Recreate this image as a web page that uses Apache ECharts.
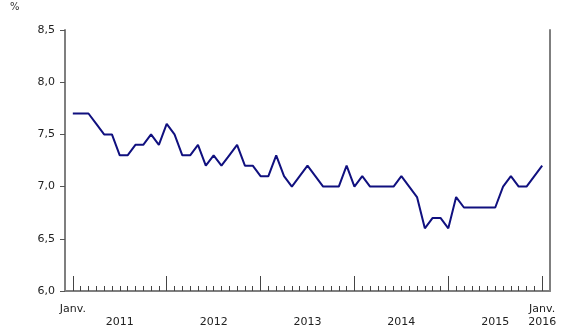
<!DOCTYPE html>
<html>
<head>
<meta charset="utf-8">
<script src="https://cdn.jsdelivr.net/npm/echarts@6/dist/echarts.min.js"></script>
<style>
  html, body { margin: 0; padding: 0; background: #fff; }
  #chart { width: 580px; height: 335px; }
</style>
</head>
<body>
<div id="chart"></div>
<script>
// monthly values, Jan 2011 .. Jan 2016
var years = [2011, 2012, 2013, 2014, 2015, 2016]
var v2011 = [7.7, 7.7, 7.7, 7.6, 7.5, 7.5, 7.3, 7.3, 7.4, 7.4, 7.5, 7.4]
var v2012 = [7.6, 7.5, 7.3, 7.3, 7.4, 7.2, 7.3, 7.2, 7.3, 7.4, 7.2, 7.2]
var v2013 = [7.1, 7.1, 7.3, 7.1, 7.0, 7.1, 7.2, 7.1, 7.0, 7.0, 7.0, 7.2]
var v2014 = [7.0, 7.1, 7.0, 7.0, 7.0, 7.0, 7.1, 7.0, 6.9, 6.6, 6.7, 6.7]
var v2015 = [6.6, 6.9, 6.8, 6.8, 6.8, 6.8, 6.8, 7.0, 7.1, 7.0, 7.0, 7.1]
var v2016 = [7.2]
var yTicks = [6.0, 6.5, 7.0, 7.5, 8.0, 8.5]
var monthLabel = 'Janv.'

var values = [].concat(v2011, v2012, v2013, v2014, v2015, v2016)
var cats = ['']
var data = [null]
for (var i = 0; i < values.length; i++) {
  var y = years[0] + Math.floor(i / 12)
  var m = i % 12 + 1
  cats.push(y + '-' + (m < 10 ? '0' + m : m))
  data.push(values[i])
}
cats.push('')
data.push(null)
var last = values.length // category index of the last month

function isJan (idx) {
  return idx >= 1 && idx <= last && (idx - 1) % 12 === 0
}
function isMonth (idx) {
  return idx >= 1 && idx <= last
}

var font = 'DejaVu Sans'
var myChart = echarts.init(document.getElementById('chart'))
var option = {
  animation: false,
  title: {
    text: '%',
    left: 5,
    top: -3,
    textStyle: { fontFamily: font, fontSize: 10, fontWeight: 'normal', color: '#333' }
  },
  grid: { left: 65, right: 30, top: 30, bottom: 44 },
  xAxis: [
    {
      type: 'category',
      data: cats,
      boundaryGap: false,
      axisLine: { lineStyle: { color: '#7f7f7f', width: 2 } },
      axisTick: {
        inside: true,
        length: 5,
        interval: function (idx) { return isMonth(idx) && !isJan(idx) },
        lineStyle: { color: '#444', width: 1 }
      },
      axisLabel: {
        interval: function (idx) {
          return idx === 1 || idx === last || (isMonth(idx) && (idx - 1) % 12 === 6)
        },
        formatter: function (val, idx) {
          var y = val.slice(0, 4)
          if (idx === 1) return monthLabel
          if (idx === last) return monthLabel + '\n' + y
          return '\n' + y
        },
        margin: 12,
        lineHeight: 13,
        fontFamily: font,
        fontSize: 11,
        color: '#222'
      },
      splitLine: { show: false }
    },
    {
      type: 'category',
      data: cats,
      boundaryGap: false,
      position: 'bottom',
      axisLine: { show: false },
      axisTick: {
        inside: true,
        length: 15,
        interval: function (idx) { return isJan(idx) },
        lineStyle: { color: '#444', width: 1 }
      },
      axisLabel: { show: false },
      splitLine: { show: false }
    }
  ],
  yAxis: [
    {
      type: 'value',
      min: yTicks[0],
      max: yTicks[yTicks.length - 1],
      interval: 0.5,
      axisLine: { show: true, lineStyle: { color: '#7f7f7f', width: 2 } },
      axisTick: { show: true, length: 5, lineStyle: { color: '#555', width: 1 } },
      axisLabel: {
        margin: 10,
        fontFamily: font,
        fontSize: 11,
        color: '#222',
        formatter: function (v) { return v.toFixed(1).replace('.', ',') }
      },
      splitLine: { show: false }
    },
    {
      type: 'value',
      position: 'right',
      min: yTicks[0],
      max: yTicks[yTicks.length - 1],
      axisLine: { show: true, lineStyle: { color: '#7f7f7f', width: 2 } },
      axisTick: { show: false },
      axisLabel: { show: false },
      splitLine: { show: false }
    }
  ],
  series: [
    {
      type: 'line',
      data: data,
      symbol: 'none',
      lineStyle: { color: '#10107f', width: 2 },
      itemStyle: { color: '#10107f' }
    }
  ]
}
option && myChart.setOption(option)
</script>
</body>
</html>
